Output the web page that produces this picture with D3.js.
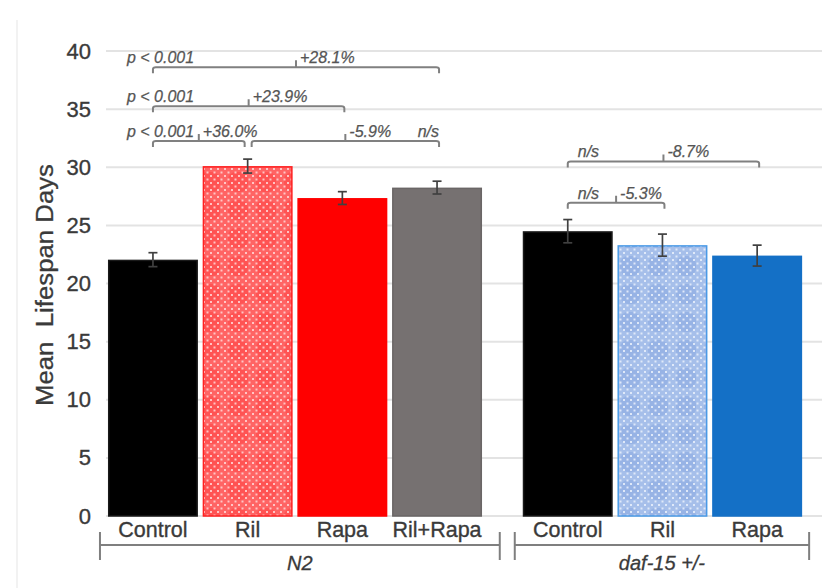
<!DOCTYPE html>
<html><head><meta charset="utf-8">
<script src="https://cdn.jsdelivr.net/npm/d3@7/dist/d3.min.js"></script>
<style>
html,body{margin:0;padding:0;background:#fff;}
svg{display:block;font-family:"Liberation Sans",Arial,sans-serif;}
</style></head>
<body><svg id="chart" width="831" height="588"></svg>
<script>
// ---- data ----
const groups = ["N2", "daf-15 +/-"];
const categories = ["Control", "Ril", "Rapa", "Ril+Rapa", "Control", "Ril", "Rapa"];
const groupOf = [0, 0, 0, 0, 1, 1, 1];
const values = [22.05, 30.1, 27.35, 28.25, 24.5, 23.3, 22.4];
const errors = [0.6, 0.6, 0.55, 0.55, 1.0, 0.95, 0.9];
const yTicks = [0, 5, 10, 15, 20, 25, 30, 35, 40];
const yTitle = "Mean  Lifespan Days";
// comparison brackets: from bar index, to bar index, level (days), note, change
const bracketFrom = [0, 0, 0, 1, 4, 4];
const bracketTo = [3, 2, 1, 3, 6, 5];
const bracketLevel = [38.6, 35.25, 32.25, 32.25, 30.5, 26.95];
const bracketNote = ["p < 0.001", "p < 0.001", "p < 0.001", "n/s", "n/s", "n/s"];
const bracketChange = ["+28.1%", "+23.9%", "+36.0%", "-5.9%", "-8.7%", "-5.3%"];

// ---- styles ----
const fills = ["#000000", "url(#redCheck)", "#ff0000", "#767171", "#000000", "url(#blueCheck)", "#1470c6"];
const strokes = ["#1a1a1a", "#ff2020", "#ff0000", "#6a6666", "#1a1a1a", "#4a9ae6", "#1470c6"];
const textCol = "#3a3a3a";
const annCol = "#555555";
const brCol = "#808080";

const svg = d3.select("#chart");
const defs = svg.append("defs");
function checker(id, base, light, blob) {
  const p = defs.append("pattern").attr("id", id).attr("patternUnits", "userSpaceOnUse")
    .attr("width", 28).attr("height", 28);
  p.append("rect").attr("width", 28).attr("height", 28).attr("fill", base);
  p.append("rect").attr("x", 4).attr("y", 4).attr("width", 20).attr("height", 20).attr("fill", blob).attr("opacity", 0.3).attr("rx", 8);
  for (let i = 0; i < 28; i += 3.5) for (let j = 0; j < 28; j += 3.5) {
    if (((i + j) / 3.5) % 2 === 0) p.append("rect").attr("x", i).attr("y", j).attr("width", 2).attr("height", 2).attr("fill", light).attr("opacity", 0.9);
  }
}
checker("redCheck", "#ff6464", "#ffd0d0", "#ff2a2a");
checker("blueCheck", "#a6bfea", "#e6eefb", "#7598dc");

// faint page frame line
svg.append("line").attr("x1", 17).attr("x2", 17).attr("y1", 20).attr("y2", 588).attr("stroke", "#f2f2f2").attr("stroke-width", 2);

const y = d3.scaleLinear().domain([0, 40]).range([516, 51]);
const step = 94.7, groupGap = 36;
const x = d3.scaleBand().domain(d3.range(categories.length))
  .range([105.6, 105.6 + step * categories.length]).paddingInner(0.05).paddingOuter(0.025);
const bx = i => x(i) + groupOf[i] * groupGap;
const cx = i => bx(i) + x.bandwidth() / 2;

// gridlines
svg.append("g").selectAll("line").data(yTicks).join("line")
  .attr("x1", 106).attr("x2", 822).attr("y1", d => y(d)).attr("y2", d => y(d))
  .attr("stroke", "#e3e3e3").attr("stroke-width", 2);

// y axis labels
const yAxis = svg.append("g").attr("transform", "translate(101,0)")
  .call(d3.axisLeft(y).tickValues(yTicks).tickSize(0).tickPadding(10));
yAxis.select(".domain").remove();
yAxis.selectAll("text").attr("font-size", 22).attr("fill", textCol)
  .attr("stroke", textCol).attr("stroke-width", 0.35)
  .attr("font-family", "Liberation Sans, Arial, sans-serif");

svg.append("text").attr("transform", "translate(53,285) rotate(-90)")
  .attr("text-anchor", "middle").attr("font-size", 23.5).attr("fill", textCol)
  .attr("stroke", textCol).attr("stroke-width", 0.3)
  .attr("textLength", 242).attr("lengthAdjust", "spacingAndGlyphs")
  .style("white-space", "pre").text(yTitle);

// bars
svg.append("g").selectAll("rect").data(values).join("rect")
  .attr("x", (d, i) => bx(i) + 0.75).attr("width", x.bandwidth() - 1.5)
  .attr("y", d => y(d) + 0.75).attr("height", d => y(0) - y(d) - 0.75)
  .attr("fill", (d, i) => fills[i]).attr("stroke", (d, i) => strokes[i]).attr("stroke-width", 1.5);

// error bars
const eb = svg.append("g").attr("stroke", "#404040").attr("stroke-width", 1.7);
values.forEach((v, i) => {
  const c = cx(i), t = y(v + errors[i]), b = y(v - errors[i]);
  eb.append("line").attr("x1", c).attr("x2", c).attr("y1", t).attr("y2", b);
  eb.append("line").attr("x1", c - 4.5).attr("x2", c + 4.5).attr("y1", t).attr("y2", t);
  eb.append("line").attr("x1", c - 4.5).attr("x2", c + 4.5).attr("y1", b).attr("y2", b);
});

// category labels
svg.append("g").selectAll("text").data(categories).join("text")
  .attr("x", (d, i) => cx(i)).attr("y", 537).attr("text-anchor", "middle")
  .attr("font-size", 21.5).attr("fill", textCol).attr("stroke", textCol).attr("stroke-width", 0.35)
  .text(d => d);

// group brackets
groups.forEach((g, gi) => {
  const idx = d3.range(categories.length).filter(i => groupOf[i] === gi);
  const nextFirst = d3.range(categories.length).find(i => groupOf[i] === gi + 1);
  const x1 = bx(idx[0]) - 8;
  const x2 = nextFirst !== undefined ? bx(nextFirst) - 23 : bx(idx[idx.length - 1]) + x.bandwidth() + 7;
  const gg = svg.append("g").attr("stroke", "#7f7f7f").attr("stroke-width", 2);
  gg.append("line").attr("x1", x1).attr("x2", x2).attr("y1", 545).attr("y2", 545);
  gg.append("line").attr("x1", x1).attr("x2", x1).attr("y1", 532).attr("y2", 560);
  gg.append("line").attr("x1", x2).attr("x2", x2).attr("y1", 532).attr("y2", 560);
  svg.append("text").attr("x", (x1 + x2) / 2).attr("y", 570).attr("text-anchor", "middle")
    .attr("font-size", 20).attr("font-style", "italic").attr("fill", textCol)
    .attr("stroke", textCol).attr("stroke-width", 0.3).text(g);
});

// comparison brackets
const br = svg.append("g");
bracketFrom.forEach((f, k) => {
  const x1 = cx(f), x2 = cx(bracketTo[k]) + (bracketTo[k] - f === 1 && f === 0 ? -3 : 2);
  const xs = (f === 1) ? x1 + 4 : x1;
  const ly = y(bracketLevel[k]);
  const mid = (xs + x2) / 2;
  const path = `M${xs},${ly + 6} V${ly + 2} Q${xs},${ly} ${xs + 3},${ly} H${x2 - 3} Q${x2},${ly} ${x2},${ly + 2} V${ly + 6} M${mid},${ly} V${ly - 7}`;
  br.append("path").attr("d", path).attr("fill", "none").attr("stroke", brCol).attr("stroke-width", 2);
  br.append("text").attr("x", mid + 4).attr("y", ly - 4).attr("font-size", 16).attr("font-style", "italic")
    .attr("fill", annCol).attr("stroke", annCol).attr("stroke-width", 0.25).text(bracketChange[k]);
  const note = bracketNote[k];
  let nx, anchor;
  if (groupOf[f] === 0 && note !== "n/s") { nx = x1 - 26; anchor = "start"; }
  else if (groupOf[f] === 0) { nx = x2; anchor = "end"; }
  else { nx = x1 + 10; anchor = "start"; }
  br.append("text").attr("x", nx).attr("y", ly - 4).attr("text-anchor", anchor).attr("font-size", 16)
    .attr("font-style", "italic").attr("fill", annCol).attr("stroke", annCol).attr("stroke-width", 0.25).text(note);
});
</script></body></html>
